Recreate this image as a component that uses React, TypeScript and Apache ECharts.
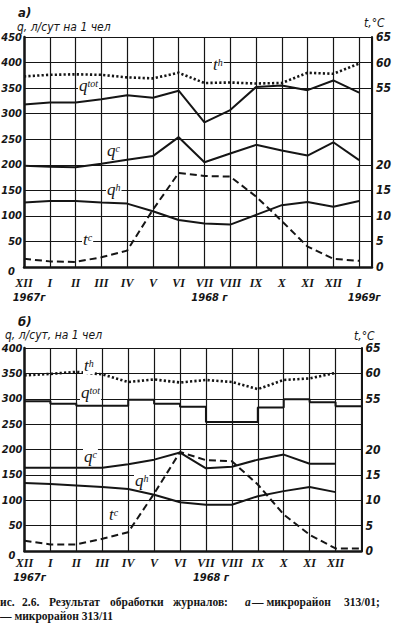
import React, { useEffect, useRef } from 'react';
import * as echarts from 'echarts';

// ---------- axis categories / tick labels ----------
const MONTHS = ['XII', 'I', 'II', 'III', 'IV', 'V', 'VI', 'VII', 'VIII', 'IX', 'X', 'XI', 'XII', 'I'];
const YEARS_A = ['1967г', '', '', '', '', '', '', '1968 г', '', '', '', '', '', '1969г'];
const YEARS_B = ['1967г', '', '', '', '', '', '', '1968 г', '', '', '', '', '', '1969 г'];
const T_TICKS_LOW = [0, 5, 10, 15, 20];
const T_TICKS_HIGH = [55, 60, 65];

// ---------- chart а (микрорайон 313/01) ----------
const Q_TOT_A = [318, 322, 322, 328, 336, 331, 345, 283, 307, 352, 355, 346, 365, 341];
const Q_C_A = [198, 196, 195, 202, 210, 217, 254, 205, 222, 239, 228, 218, 244, 209];
const Q_H_A = [126, 129, 129, 126, 124, 109, 92, 85, 83, 102, 121, 127, 118, 129];
const T_C_A = [1.6, 1.1, 1.0, 1.9, 3.2, 11.2, 18.4, 17.8, 17.7, 13.8, 9.0, 4.0, 1.6, 1.2]; // °C
const T_H_A = [57.3, 57.6, 57.7, 57.6, 57.1, 56.9, 58.0, 56.0, 56.1, 55.9, 56.0, 58.0, 57.8, 59.8]; // °C

// ---------- chart б (микрорайон 313/11) ----------
const Q_TOT_B = [295, 290, 286, 286, 298, 290, 284, 254, 254, 283, 299, 293, 285]; // monthly steps
const Q_C_B = [164, 164, 164, 164, 171, 180, 194, 163, 166, 180, 190, 172, 172];
const Q_H_B = [134, 132, 129, 126, 122, 111, 96, 91, 91, 108, 118, 126, 116];
const T_C_B = [2.0, 1.3, 1.3, 2.4, 3.7, 11.3, 19.5, 17.9, 17.7, 13.1, 7.2, 3.2, 0.5, 0.5]; // °C
const T_H_B = [59.6, 59.9, 60.3, 59.8, 58.3, 58.8, 58.2, 58.7, 58.3, 56.9, 58.7, 59.0, 60.1]; // °C

const A_Q_MAX = 450;
const B_Q_MAX = 400;
const A_UPPER_BASE = 350; // q value where t = 55 °C on chart а
const B_UPPER_BASE = 300; // q value where t = 55 °C on chart б

const INK = '#151515';
const NUM_FONT = 'DejaVu Sans Condensed, DejaVu Sans, sans-serif';
const SERIF = 'Liberation Serif, DejaVu Serif, serif';

function tempLabel(base: number) {
  return (v: number) => {
    const low = v / 10;
    const high = 55 + (v - base) / 10;
    if (T_TICKS_LOW.includes(low)) return String(low);
    if (T_TICKS_HIGH.includes(high)) return String(high);
    return '';
  };
}

function monthLabel(years: string[]) {
  return (v: number) => {
    if (!Number.isInteger(v) || v < 0 || v >= MONTHS.length) return '';
    const y = years[v];
    return `{m|${MONTHS[v]}}` + (y ? `\n{y|${y}}` : '');
  };
}

const solid = { color: INK, width: 2 };
const dashed = { color: INK, width: 2, type: [7, 4] as any };
const dotted = { color: INK, width: 2.6, type: [2.2, 2.2] as any };

function line(data: number[][], xi: number, yi: number, ls: any, extra: any = {}) {
  return {
    type: 'line',
    xAxisIndex: xi,
    yAxisIndex: yi,
    data,
    symbol: 'none',
    silent: true,
    lineStyle: ls,
    ...extra,
  };
}

const pts = (arr: number[], f: (v: number) => number = (v) => v) => arr.map((v, i) => [i, f(v)]);

function xAxisCfg(gridIndex: number, max: number, years: string[], margin: number) {
  return {
    gridIndex,
    type: 'value',
    min: 0,
    max,
    interval: 1,
    axisLine: { show: true, onZero: false, lineStyle: { color: INK, width: 2.5 } },
    axisTick: { show: false },
    splitLine: { show: true, lineStyle: { color: INK, width: 1.2 } },
    axisLabel: {
      margin,
      formatter: monthLabel(years),
      rich: {
        m: { fontFamily: SERIF, fontStyle: 'italic', fontWeight: 'bold', fontSize: 12, color: INK, lineHeight: 14 },
        y: { fontFamily: NUM_FONT, fontStyle: 'italic', fontWeight: 'bold', fontSize: 11, color: INK, lineHeight: 14, padding: [0, 0, 0, 10] },
      },
    },
  };
}

const leftNum = (v: number) => (v === 0 ? '{z|0}' : `{n|${v}}`);

function yLeftCfg(gridIndex: number, max: number) {
  const base = { fontFamily: NUM_FONT, fontStyle: 'italic', fontWeight: 'bold', fontSize: 11, color: INK };
  return {
    gridIndex,
    type: 'value',
    min: 0,
    max,
    interval: 50,
    axisLine: { show: true, lineStyle: { color: INK, width: 2.5 } },
    axisTick: { show: false },
    splitLine: { show: true, lineStyle: { color: INK, width: 1.2 } },
    axisLabel: {
      margin: 2,
      formatter: leftNum,
      rich: {
        n: base,
        z: { ...base, padding: [8, 7, 0, 0] },
      },
    },
  };
}

function yRightCfg(gridIndex: number, max: number, base: number) {
  return {
    gridIndex,
    type: 'value',
    position: 'right',
    min: 0,
    max,
    interval: 50,
    axisLine: { show: true, lineStyle: { color: INK, width: 2 } },
    axisTick: { show: false },
    splitLine: { show: false },
    axisLabel: {
      margin: 4,
      formatter: tempLabel(base),
      fontFamily: NUM_FONT,
      fontStyle: 'italic',
      fontWeight: 'bold',
      fontSize: 12,
      color: INK,
    },
  };
}

function seriesLabel(x: number, y: number, base: string, sup: string) {
  return {
    type: 'text',
    x,
    y,
    silent: true,
    z: 100,
    style: {
      text: `{b|${base}}{s|${sup}}`,
      textVerticalAlign: 'top',
      backgroundColor: '#fff',
      padding: [0, 1],
      rich: {
        b: { fontFamily: SERIF, fontStyle: 'italic', fontSize: 17, fill: INK, lineHeight: 16, verticalAlign: 'bottom' },
        s: { fontFamily: SERIF, fontStyle: 'italic', fontSize: 10, fill: INK, lineHeight: 16, verticalAlign: 'top' },
      },
    },
  };
}

function plainText(x: number, y: number, text: string, style: any = {}) {
  return {
    type: 'text',
    x,
    y,
    silent: true,
    style: { text, fill: INK, textVerticalAlign: 'middle', ...style },
  };
}

export default function App() {
  const ref = useRef<HTMLDivElement>(null);

  useEffect(() => {
    document.body.style.margin = '0';
    if (!ref.current) return;
    const chart = echarts.init(ref.current, undefined, { renderer: 'svg' });

    const titleStyle = { fontFamily: NUM_FONT, fontStyle: 'italic', fontSize: 12 };
    const capStyle = { fontFamily: SERIF, fontWeight: 'bold', fontSize: 11.5 };
    const CAP_Y1 = 602;
    const CAP_Y2 = 616;

    const option: any = {
      animation: false,
      backgroundColor: '#fff',
      grid: [
        { left: 24, top: 37, width: 348, height: 230, outerBoundsMode: 'none' },
        { left: 24.5, top: 348, width: 337, height: 203, outerBoundsMode: 'none' },
      ],
      xAxis: [xAxisCfg(0, 13.5, YEARS_A, 9), xAxisCfg(1, 13, YEARS_B, 5)],
      yAxis: [
        yLeftCfg(0, A_Q_MAX),
        yRightCfg(0, A_Q_MAX, A_UPPER_BASE),
        yLeftCfg(1, B_Q_MAX),
        yRightCfg(1, B_Q_MAX, B_UPPER_BASE),
      ],
      series: [
        line(pts(Q_TOT_A), 0, 0, solid),
        line(pts(Q_C_A), 0, 0, solid),
        line(pts(Q_H_A), 0, 0, solid),
        line(pts(T_C_A, (t) => t * 10), 0, 0, dashed),
        line(pts(T_H_A, (t) => A_UPPER_BASE + (t - 55) * 10), 0, 0, dotted),

        line(
          [...pts(Q_TOT_B), [Q_TOT_B.length, Q_TOT_B[Q_TOT_B.length - 1]]],
          1, 2, solid, { step: 'end' }
        ),
        line(pts(Q_C_B), 1, 2, solid),
        line(pts(Q_H_B), 1, 2, solid),
        line(pts(T_C_B, (t) => t * 10), 1, 2, dashed),
        line(pts(T_H_B, (t) => B_UPPER_BASE + (t - 55) * 10), 1, 2, dotted),
      ],
      graphic: [
        plainText(18, 12, 'а)', { fontFamily: NUM_FONT, fontStyle: 'italic', fontWeight: 'bold', fontSize: 13 }),
        plainText(17, 27, 'q, л/сут на 1 чел', titleStyle),
        plainText(364, 23, 't,°C', titleStyle),
        plainText(18, 321, 'б)', { fontFamily: NUM_FONT, fontStyle: 'italic', fontWeight: 'bold', fontSize: 13 }),
        plainText(5, 335, 'q, л/сут, на 1 чел', titleStyle),
        plainText(354, 336, 't,°C', titleStyle),

        seriesLabel(212, 57, 't', 'h'),
        seriesLabel(78, 78, 'q', 'tot'),
        seriesLabel(106, 143, 'q', 'c'),
        seriesLabel(106, 182, 'q', 'h'),
        seriesLabel(82, 232, 't', 'c'),

        seriesLabel(83, 358, 't', 'h'),
        seriesLabel(80, 385, 'q', 'tot'),
        seriesLabel(83, 449, 'q', 'c'),
        seriesLabel(134, 473, 'q', 'h'),
        seriesLabel(108, 507, 't', 'c'),

        plainText(0, CAP_Y1, 'ис.', capStyle),
        plainText(22, CAP_Y1, '2.6.', capStyle),
        plainText(49, CAP_Y1, 'Результат', capStyle),
        plainText(110, CAP_Y1, 'обработки', capStyle),
        plainText(173, CAP_Y1, 'журналов:', capStyle),
        plainText(245, CAP_Y1, 'а', { ...capStyle, fontStyle: 'italic' }),
        plainText(252, CAP_Y1, '— микрорайон', capStyle),
        plainText(344, CAP_Y1, '313/01;', capStyle),
        plainText(0, CAP_Y2, '— микрорайон 313/11', capStyle),
      ],
    };

    chart.setOption(option);
    return () => chart.dispose();
  }, []);

  return <div ref={ref} style={{ width: 396, height: 633 }} />;
}
